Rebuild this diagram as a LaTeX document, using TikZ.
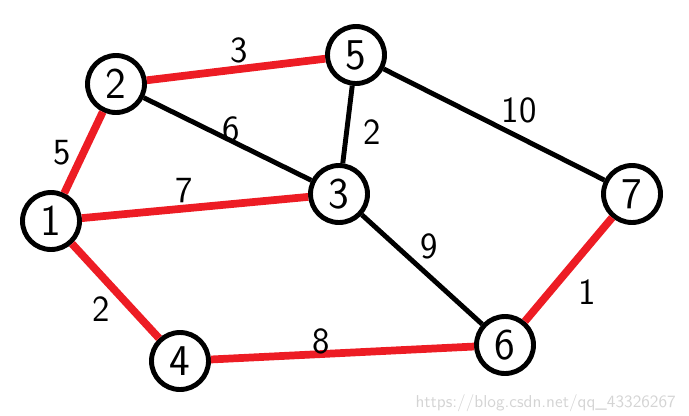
\documentclass[tikz,border=0pt]{standalone}
\usepackage{xcolor}
\usepackage{tikz}
\usetikzlibrary{positioning}
\definecolor{tinta}{HTML}{000000}
\definecolor{vermelho}{HTML}{ED1C24}
\definecolor{marca}{HTML}{D4D4D4}

\begin{document}
\begin{tikzpicture}[
      v/.style={draw=tinta,circle,line width=2.8pt,minimum size=11.4mm,inner sep=0pt,font=\sffamily\fontsize{25}{27}\selectfont},
      aresta/.style={draw=tinta,line width=2.8pt},
      arvore/.style={draw=vermelho,line width=4.4pt},
      lbl/.style={font=\sffamily\fontsize{21}{23}\selectfont,inner sep=2pt},
    ]
    \useasboundingbox (0,0) rectangle (13.78,8.30);
    \node[v] (n1) at (1.02,3.88) {1};
  \node[v] (n2) at (2.32,6.62) {2};
  \node[v] (n5) at (7.12,7.20) {5};
  \node[v] (n3) at (6.78,4.42) {3};
  \node[v] (n7) at (12.64,4.42) {7};
  \node[v] (n6) at (10.10,1.40) {6};
  \node[v] (n4) at (3.60,1.08) {4};
  \draw[arvore] (n2) -- (n5) node[lbl,pos=0.52,above=-1pt]{3};
  \draw[aresta] (n2) -- (n3) node[lbl,pos=0.52,above=-4pt]{6};
  \draw[arvore] (n1) -- (n2) node[lbl,midway,left=3pt]{5};
  \draw[arvore] (n1) -- (n3) node[lbl,pos=0.45,above=-1pt]{7};
  \draw[aresta] (n5) -- (n3) node[lbl,pos=0.6,right=6pt]{2};
  \draw[aresta] (n5) -- (n7) node[lbl,pos=0.52,above right=-2pt]{10};
  \draw[aresta] (n3) -- (n6) node[lbl,pos=0.45,above right=-1pt]{9};
  \draw[arvore] (n1) -- (n4) node[lbl,midway,below left=-1pt]{2};
  \draw[arvore] (n4) -- (n6) node[lbl,pos=0.42,above=-4pt]{8};
  \draw[arvore] (n7) -- (n6) node[lbl,midway,below right=2pt]{1};
  \node[font=\sffamily\fontsize{9.8}{11}\selectfont,text=marca,anchor=east] (marca) at (13.64,0.24) {https://blog.csdn.net/qq\_43326267};
\end{tikzpicture}
\end{document}
